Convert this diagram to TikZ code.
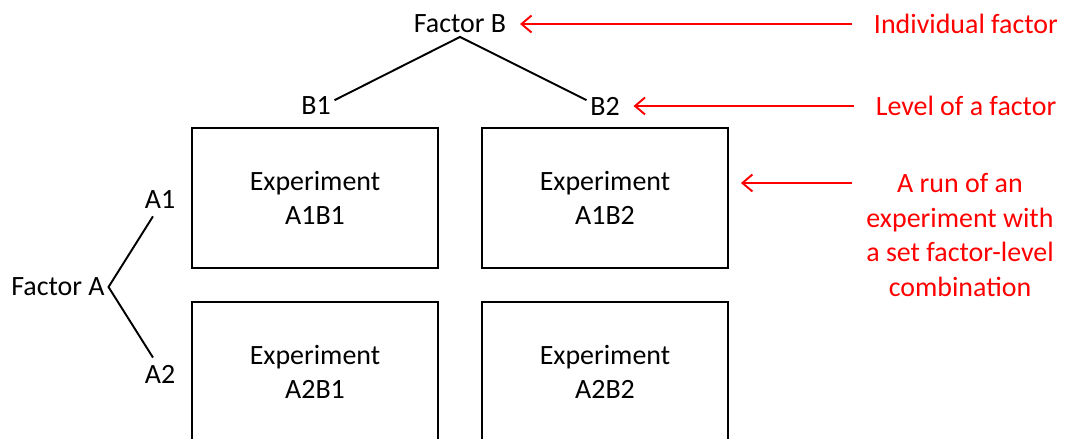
\documentclass[tikz,border=0pt]{standalone}
\usepackage{fontspec}
\setmainfont{Carlito}
\usetikzlibrary{arrows.meta}
\usepackage{xcolor}

\begin{document}
\begin{tikzpicture}[x=0.02cm, y=-0.02cm,
        every node/.style={font=\fontsize{15.9}{19.7}\selectfont, inner sep=2pt},
        expbox/.style={draw, line width=1.1pt, minimum width=4.92cm, minimum height=2.8cm, align=center},
        note/.style={text=red, align=center},
        notearrow/.style={draw=red, line width=1.1pt, -{Straight Barb[length=2mm, width=3.4mm]}, shorten <=0.36cm, shorten >=0.2cm}]

        \useasboundingbox (0,0) rectangle (1069,439);
        \clip (0,0) rectangle (1069,439);

        % factor B and its two levels
        \node (factB) at (460,24) {Factor B};
        \node (b1) at (316,106) {B1};
        \node (b2) at (605,106) {B2};
        \draw[line width=1.1pt] ([yshift=-4pt]b1.north east) -- (factB.south) -- ([yshift=-4pt]b2.north west);

        % factor A and its two levels
        \node (factA) at (58,287) {Factor A};
        \node (a1) at (160,200) {A1};
        \node (a2) at (160,374) {A2};
        \draw[line width=1.1pt] ([xshift=-4pt,yshift=-2pt]a1.south) -- (factA.east) -- ([xshift=-4pt,yshift=2pt]a2.north);

        % the four runs
        \node[expbox] (e11) at (315,198) {Experiment\\A1B1};
        \node[expbox] (e12) at (605,198) {Experiment\\A1B2};
        \node[expbox] (e21) at (315,372) {Experiment\\A2B1};
        \node[expbox] (e22) at (605,372) {Experiment\\A2B2};

        % notes on the right
        \node[note] (indiv) at (966,24) {Individual factor};
        \node[note] (level) at (966,106) {Level of a factor};
        \node[note] (run) at (960,235) {A run of an\\experiment with\\a set factor-level\\combination};
        \coordinate (runstart) at (852,183);

        \draw[notearrow] (indiv.west) -- (factB.east);
        \draw[notearrow] (level.west) -- (b2.east);
        \draw[notearrow, shorten <=0pt, shorten >=0.24cm] (runstart) -- (runstart -| e12.east);

    \end{tikzpicture}
\end{document}
